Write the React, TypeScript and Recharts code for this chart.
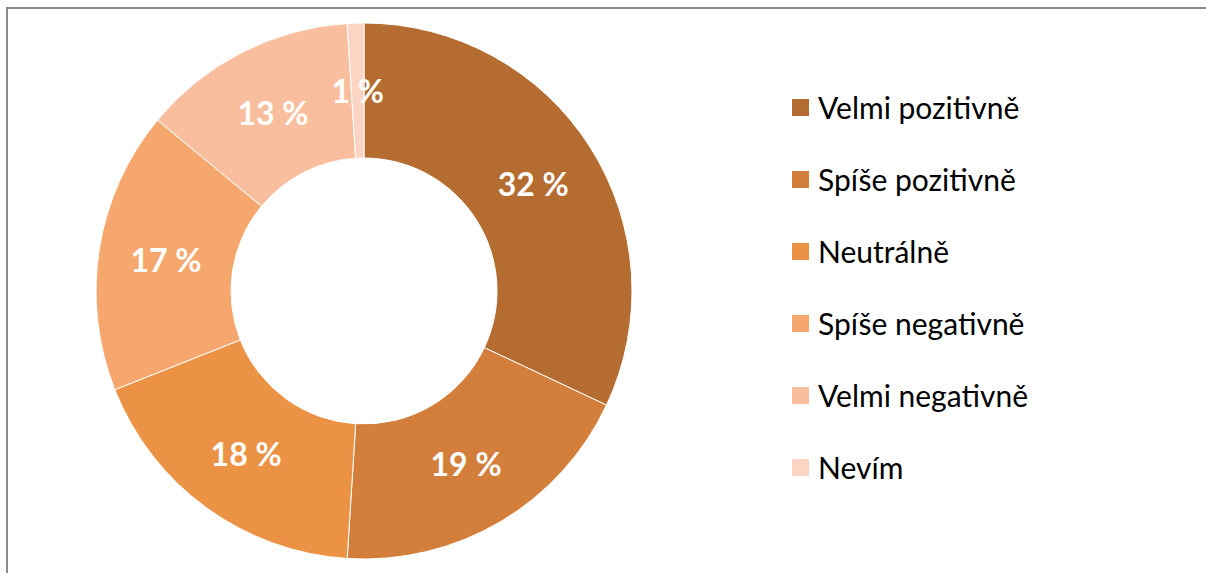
import { PieChart, Pie, Cell } from "recharts";

const categories = [
  "Velmi pozitivně",
  "Spíše pozitivně",
  "Neutrálně",
  "Spíše negativně",
  "Velmi negativně",
  "Nevím",
];
const values = [32, 19, 18, 17, 13, 1];
const colors = ["#B46C31", "#D37E3A", "#EC9244", "#F6A76D", "#F9BE9E", "#FBD4C3"];

const data = categories.map((name, i) => ({ name, value: values[i] }));

const RAD = Math.PI / 180;
const FONT = "Lato, 'Open Sans', sans-serif";

function renderLabel(props: any) {
  const { cx, cy, midAngle, innerRadius, outerRadius, value } = props;
  const r = (innerRadius + outerRadius) / 2;
  const x = cx + r * Math.cos(-midAngle * RAD);
  const y = cy + r * Math.sin(-midAngle * RAD);
  return (
    <text
      x={x}
      y={y}
      fill="#FFFFFF"
      textAnchor="middle"
      dominantBaseline="central"
      fontFamily={FONT}
      fontWeight={700}
      fontSize={32}
    >
      {value} %
    </text>
  );
}

export default function App() {
  return (
    <div
      style={{
        position: "absolute",
        left: 0,
        top: 0,
        width: 1206,
        height: 573,
        background: "#fff",
        overflow: "hidden",
      }}
    >
      <div
        style={{
          position: "absolute",
          left: 6,
          top: 7,
          width: 1300,
          height: 700,
          borderTop: "2px solid #898989",
          borderLeft: "2px solid #898989",
        }}
      />
      <div style={{ position: "absolute", left: 0, top: 0 }}>
        <PieChart
          width={760}
          height={573}
          margin={{ top: 0, right: 0, bottom: 0, left: 0 }}
        >
          <Pie
            data={data}
            dataKey="value"
            nameKey="name"
            cx={364}
            cy={291}
            innerRadius={133}
            outerRadius={268}
            startAngle={90}
            endAngle={-270}
            stroke="#FFFFFF"
            strokeWidth={1}
            label={renderLabel}
            labelLine={false}
            isAnimationActive={false}
          >
            {data.map((entry, index) => (
              <Cell key={entry.name} fill={colors[index % colors.length]} />
            ))}
          </Pie>
        </PieChart>
      </div>
      <div style={{ position: "absolute", left: 792, top: 71 }}>
        {categories.map((name, i) => (
          <div
            key={name}
            style={{ display: "flex", alignItems: "center", height: 72 }}
          >
            <span
              style={{
                width: 17,
                height: 17,
                background: colors[i],
                display: "inline-block",
                marginRight: 9,
              }}
            />
            <span style={{ fontFamily: FONT, fontSize: 30, color: "#000" }}>
              {name}
            </span>
          </div>
        ))}
      </div>
    </div>
  );
}
